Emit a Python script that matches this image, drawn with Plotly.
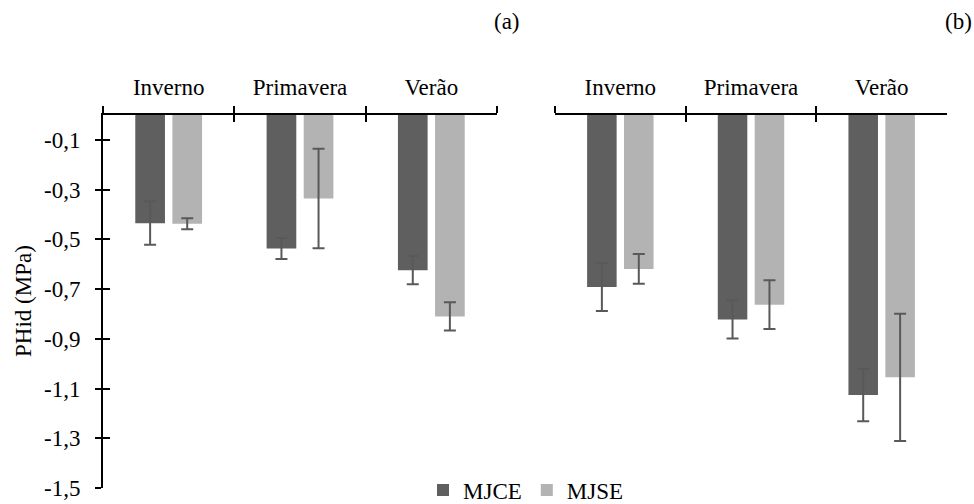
import plotly.graph_objects as go

seasons = ["Inverno", "Primavera", "Verão"]

# Panel (a)
a_mjce = [-0.435, -0.537, -0.624]
a_mjce_err = [0.087, 0.042, 0.057]
a_mjse = [-0.437, -0.336, -0.810]
a_mjse_err = [0.022, 0.200, 0.057]

# Panel (b)
b_mjce = [-0.692, -0.822, -1.126]
b_mjce_err = [0.096, 0.077, 0.106]
b_mjse = [-0.619, -0.763, -1.055]
b_mjse_err = [0.060, 0.098, 0.256]

y_ticks = [-0.1, -0.3, -0.5, -0.7, -0.9, -1.1, -1.3, -1.5]
y_ticktext = ["-0,1", "-0,3", "-0,5", "-0,7", "-0,9", "-1,1", "-1,3", "-1,5"]

DARK = "#5f5f5f"
LIGHT = "#b3b3b3"
ERR = "#595959"
FONT = "'Liberation Serif', 'Times New Roman', 'DejaVu Serif', serif"
FS = 23

fig = go.Figure()

def bar(x, y, err, color, name, xa, ya, show):
    return go.Bar(
        x=x, y=y, name=name, marker=dict(color=color, line=dict(width=0)),
        error_y=dict(type="data", array=err, color=ERR, thickness=2, width=6),
        xaxis=xa, yaxis=ya, showlegend=show, legendgroup=name,
    )

fig.add_trace(bar(seasons, a_mjce, a_mjce_err, DARK, "MJCE", "x", "y", True))
fig.add_trace(bar(seasons, a_mjse, a_mjse_err, LIGHT, "MJSE", "x", "y", True))
fig.add_trace(bar(seasons, b_mjce, b_mjce_err, DARK, "MJCE", "x2", "y2", False))
fig.add_trace(bar(seasons, b_mjse, b_mjse_err, LIGHT, "MJSE", "x2", "y2", False))

# invisible helper traces so overlay axes (for crossing tick marks) are drawn
for xa, ya, yy in [("x3", "y", a_mjce), ("x", "y3", a_mjce), ("x4", "y2", b_mjce)]:
    fig.add_trace(go.Scatter(x=seasons, y=yy, mode="markers", marker=dict(opacity=0),
                             xaxis=xa, yaxis=ya, showlegend=False, hoverinfo="skip"))

xl = [103 / 974, 497 / 974]
xr = [555 / 974, 947 / 974]
yd = [1 - 488 / 504, 1 - 115 / 504]

xcommon = dict(type="category", categoryorder="array", categoryarray=seasons,
               range=[-0.5, 2.5], tickson="boundaries", side="top",
               showgrid=False, zeroline=False, fixedrange=True)

fig.update_layout(
    width=974, height=504,
    margin=dict(l=0, r=0, t=0, b=0, autoexpand=False),
    paper_bgcolor="white", plot_bgcolor="rgba(0,0,0,0)",
    font=dict(family=FONT, size=FS, color="black"),
    barmode="group", bargap=0.435, bargroupgap=0.2,
    xaxis=dict(domain=xl, anchor="y", showline=True, linecolor="black", linewidth=2,
               ticks="outside", ticklen=7, tickwidth=2, tickcolor="black",
               ticklabelstandoff=9, automargin=False, **xcommon),
    xaxis2=dict(domain=xr, anchor="y2", showline=True, linecolor="black", linewidth=2,
                ticks="outside", ticklen=7, tickwidth=2, tickcolor="black",
                ticklabelstandoff=9, automargin=False, **xcommon),
    xaxis3=dict(overlaying="x", anchor="y", showline=False, ticks="inside", ticklen=7,
                tickwidth=2, tickcolor="black", showticklabels=False, **xcommon),
    xaxis4=dict(overlaying="x2", anchor="y2", showline=False, ticks="inside", ticklen=7,
                tickwidth=2, tickcolor="black", showticklabels=False, **xcommon),
    yaxis=dict(domain=yd, anchor="x", range=[-1.5, 0], showline=True, linecolor="black",
               linewidth=2, ticks="outside", ticklen=6, tickwidth=2, tickcolor="black",
               tickvals=y_ticks, ticktext=y_ticktext, ticklabelstandoff=10,
               showgrid=False, zeroline=False, fixedrange=True, automargin=False),
    yaxis2=dict(domain=yd, anchor="x2", range=[-1.5, 0], visible=False,
                showgrid=False, zeroline=False, fixedrange=True),
    yaxis3=dict(overlaying="y", anchor="x", side="left", range=[-1.5, 0], showline=False,
                ticks="inside", ticklen=7, tickwidth=2, tickcolor="black",
                tickvals=y_ticks, showticklabels=False, showgrid=False, zeroline=False,
                fixedrange=True),
    legend=dict(orientation="h", x=526 / 974, xanchor="center", y=(504 - 490) / 504,
                yanchor="middle", bgcolor="rgba(0,0,0,0)", font=dict(size=FS),
                itemwidth=30, tracegroupgap=0),
    annotations=[
        dict(text="PHid (MPa)", x=23 / 974, y=(504 - 301) / 504, xref="paper", yref="paper",
             textangle=-90, showarrow=False, xanchor="center", yanchor="middle",
             font=dict(size=FS)),
        dict(text="(a)", x=507 / 974, y=(504 - 22) / 504, xref="paper", yref="paper",
             showarrow=False, xanchor="center", yanchor="middle", font=dict(size=FS)),
        dict(text="(b)", x=958 / 974, y=(504 - 22) / 504, xref="paper", yref="paper",
             showarrow=False, xanchor="center", yanchor="middle", font=dict(size=FS)),
    ],
)

fig.write_html("out.html")
